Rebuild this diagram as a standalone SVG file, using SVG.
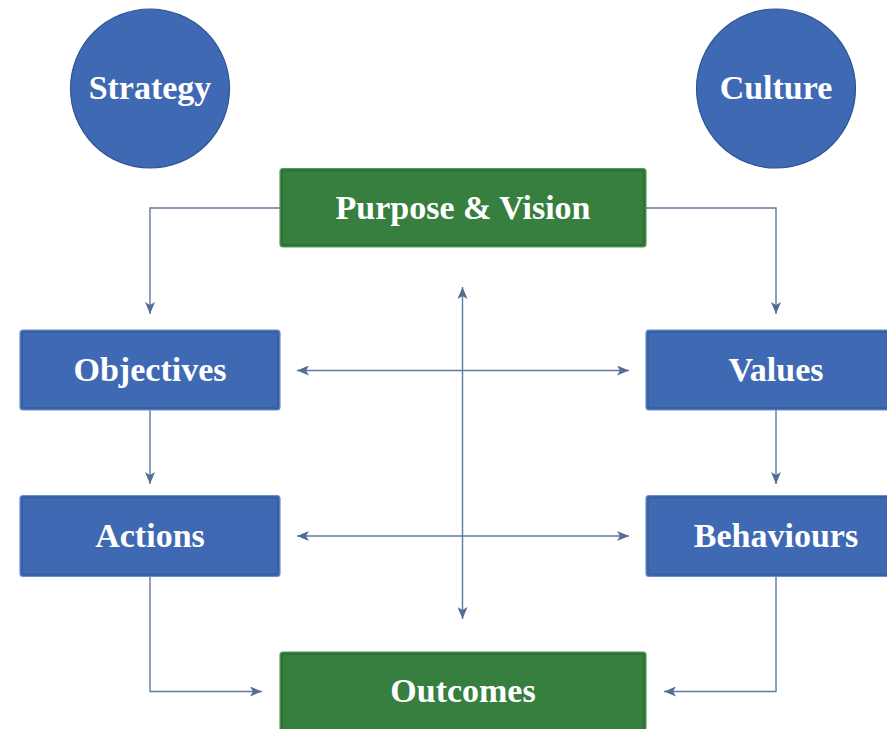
<svg xmlns="http://www.w3.org/2000/svg" width="887" height="729" viewBox="0 0 887 729">
  <style>
    .blue { fill: #3f6ab3; stroke: #6a8ccb; stroke-width: 1.2; }
    .green { fill: #367f3f; stroke: #4f9a58; stroke-width: 1.2; }
    .innerblue { fill: none; stroke: #38609f; stroke-width: 2; }
    .innergreen { fill: none; stroke: #2f7036; stroke-width: 2; }
    .circle { fill: #3f6ab3; stroke: #2f5597; stroke-width: 1.2; }
    .label { font-family: "Liberation Serif", "Times New Roman", serif; font-weight: bold; font-size: 34px; fill: #ffffff; text-anchor: middle; }
    .conn { fill: none; stroke: #5f7aa0; stroke-width: 1.4; }
  </style>
  <defs>
    <marker id="arrow" viewBox="0 0 12 10" refX="12" refY="5" markerWidth="12" markerHeight="10" markerUnits="userSpaceOnUse" orient="auto-start-reverse">
      <path d="M0,0 L12,5 L0,10 L3,5 z" fill="#536d93"/>
    </marker>
  </defs>
  <rect width="887" height="729" fill="#ffffff"/>

  <g id="connectors">
    <path class="conn" d="M280,208 H150 V314" marker-end="url(#arrow)"/>
    <path class="conn" d="M646,208 H776 V314" marker-end="url(#arrow)"/>
    <path class="conn" d="M150,410 V484" marker-end="url(#arrow)"/>
    <path class="conn" d="M776,410 V484" marker-end="url(#arrow)"/>
    <path class="conn" d="M297,370.5 H629" marker-start="url(#arrow)" marker-end="url(#arrow)"/>
    <path class="conn" d="M297,536 H629" marker-start="url(#arrow)" marker-end="url(#arrow)"/>
    <path class="conn" d="M462.5,287 V619" marker-start="url(#arrow)" marker-end="url(#arrow)"/>
    <path class="conn" d="M150,577 V691.5 H262" marker-end="url(#arrow)"/>
    <path class="conn" d="M776,577 V691.5 H664" marker-end="url(#arrow)"/>
  </g>

  <g id="strategy">
    <circle class="circle" cx="150" cy="88.5" r="79.5"/>
    <text class="label" x="150" y="98.5">Strategy</text>
  </g>
  <g id="culture">
    <circle class="circle" cx="776" cy="88.5" r="79.5"/>
    <text class="label" x="776" y="98.5">Culture</text>
  </g>
  <g id="purpose">
    <rect class="green" x="280" y="168.5" width="366" height="78.5" rx="3"/>
    <rect class="innergreen" x="282" y="170.5" width="362" height="74.5" rx="2"/>
    <text class="label" x="463" y="218.5">Purpose &amp; Vision</text>
  </g>
  <g id="objectives">
    <rect class="blue" x="20" y="330" width="260" height="80" rx="3"/>
    <rect class="innerblue" x="22" y="332" width="256" height="76" rx="2"/>
    <text class="label" x="150" y="380.5">Objectives</text>
  </g>
  <g id="values">
    <rect class="blue" x="646" y="330" width="260" height="80" rx="3"/>
    <rect class="innerblue" x="648" y="332" width="256" height="76" rx="2"/>
    <text class="label" x="776" y="380.5">Values</text>
  </g>
  <g id="actions">
    <rect class="blue" x="20" y="495.5" width="260" height="81" rx="3"/>
    <rect class="innerblue" x="22" y="497.5" width="256" height="77" rx="2"/>
    <text class="label" x="150" y="546.5">Actions</text>
  </g>
  <g id="behaviours">
    <rect class="blue" x="646" y="495.5" width="260" height="81" rx="3"/>
    <rect class="innerblue" x="648" y="497.5" width="256" height="77" rx="2"/>
    <text class="label" x="776" y="546.5">Behaviours</text>
  </g>
  <g id="outcomes">
    <rect class="green" x="280" y="652" width="366" height="80" rx="3"/>
    <rect class="innergreen" x="282" y="654" width="362" height="76" rx="2"/>
    <text class="label" x="463" y="701.5">Outcomes</text>
  </g>
</svg>
